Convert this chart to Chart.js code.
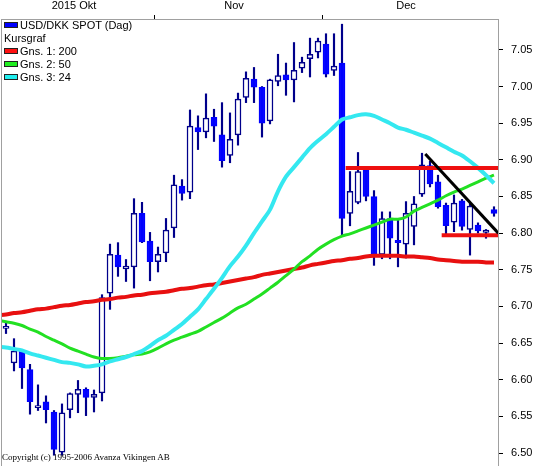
<!DOCTYPE html>
<html>
<head>
<meta charset="utf-8">
<script src="https://cdn.jsdelivr.net/npm/chart.js@4.4.0/dist/chart.umd.min.js"></script>
<style>
  html, body { margin: 0; padding: 0; background: #fff; overflow: hidden; }
  #wrap { position: relative; width: 534px; height: 466px; overflow: hidden; }
  #grafico { position: absolute; left: 0; top: 0; display: block; }
  #legend { position: absolute; left: 4px; top: 19px; font: 11px "Liberation Sans", Arial, sans-serif; color: #000; }
  #legend div { height: 13px; line-height: 13px; white-space: nowrap; }
  #legend .sw { display: inline-block; width: 12px; height: 4px; border: 1px solid #222; margin-right: 2px; vertical-align: 1px; }
  #copy { position: absolute; left: 2px; top: 452px; font: 9px "Liberation Serif", "Times New Roman", serif; line-height: 10px; color: #000; white-space: nowrap; }
</style>
</head>
<body>
<div id="wrap">
  <canvas id="grafico" width="534" height="466"></canvas>
  <div id="legend">
    <div><span class="sw" style="background:#0000ff"></span>USD/DKK SPOT (Dag)</div>
    <div>Kursgraf</div>
    <div><span class="sw" style="background:#ff1010"></span>Gns. 1: 200</div>
    <div><span class="sw" style="background:#20ee20"></span>Gns. 2: 50</div>
    <div><span class="sw" style="background:#20eeee"></span>Gns. 3: 24</div>
  </div>
  <div id="copy">Copyright (c) 1995-2006 Avanza Vikingen AB</div>
</div>
<script>
// dagskurser USD/DKK, okt - dec 2015 (index 0 = første dag)
const open  = [6.670, 6.623, 6.640, 6.614, 6.562, 6.570, 6.556, 6.501, 6.559, 6.580, 6.587, 6.576, 6.582, 6.718, 6.770, 6.751, 6.754, 6.827, 6.789, 6.761, 6.773, 6.807, 6.864, 6.856, 6.944, 6.938, 6.958, 6.934, 6.906, 6.934, 6.985, 7.010, 6.999, 6.953, 7.007, 7.016, 7.009, 7.025, 7.038, 7.047, 7.058, 7.022, 7.032, 6.827, 6.842, 6.887, 6.850, 6.771, 6.820, 6.790, 6.785, 6.809, 6.853, 6.892, 6.870, 6.838, 6.815, 6.844, 6.805, 6.811, 6.801, 6.832];
const high  = [6.677, 6.656, 6.641, 6.621, 6.593, 6.578, 6.558, 6.567, 6.582, 6.599, 6.589, 6.586, 6.716, 6.785, 6.787, 6.764, 6.847, 6.842, 6.801, 6.781, 6.820, 6.879, 6.873, 6.968, 6.960, 6.990, 6.969, 6.978, 6.964, 6.991, 7.020, 7.026, 7.000, 7.010, 7.044, 7.032, 7.060, 7.040, 7.066, 7.066, 7.072, 7.072, 7.085, 6.884, 6.910, 6.891, 6.858, 6.829, 6.829, 6.818, 6.843, 6.850, 6.909, 6.898, 6.879, 6.841, 6.852, 6.846, 6.841, 6.814, 6.805, 6.836];
const low   = [6.663, 6.612, 6.588, 6.553, 6.558, 6.541, 6.497, 6.497, 6.548, 6.555, 6.551, 6.556, 6.571, 6.696, 6.741, 6.734, 6.725, 6.787, 6.735, 6.747, 6.761, 6.794, 6.845, 6.847, 6.914, 6.930, 6.925, 6.890, 6.896, 6.920, 6.978, 6.978, 6.931, 6.949, 7.001, 6.988, 6.979, 7.019, 7.013, 7.039, 7.013, 7.015, 6.797, 6.810, 6.840, 6.844, 6.756, 6.765, 6.765, 6.754, 6.766, 6.784, 6.850, 6.863, 6.834, 6.797, 6.802, 6.804, 6.770, 6.800, 6.793, 6.823];
const close = [6.670, 6.639, 6.616, 6.570, 6.562, 6.559, 6.505, 6.555, 6.581, 6.587, 6.576, 6.580, 6.712, 6.771, 6.754, 6.755, 6.827, 6.788, 6.761, 6.771, 6.804, 6.866, 6.854, 6.946, 6.938, 6.957, 6.946, 6.899, 6.928, 6.983, 7.011, 6.999, 6.950, 7.009, 7.015, 7.009, 7.022, 7.033, 7.044, 7.062, 7.017, 7.028, 6.820, 6.857, 6.884, 6.850, 6.770, 6.820, 6.793, 6.787, 6.827, 6.840, 6.893, 6.867, 6.836, 6.810, 6.841, 6.809, 6.837, 6.803, 6.804, 6.827];

// glidande medel, fra dagen før index 0 (index -1) til sidste dag
const gns200 = [6.688, 6.689, 6.691, 6.692, 6.694, 6.696, 6.697, 6.699, 6.701, 6.702, 6.704, 6.706, 6.707, 6.709, 6.710, 6.712, 6.713, 6.715, 6.716, 6.718, 6.719, 6.720, 6.722, 6.724, 6.725, 6.727, 6.729, 6.730, 6.732, 6.734, 6.736, 6.738, 6.740, 6.743, 6.745, 6.747, 6.749, 6.751, 6.753, 6.756, 6.758, 6.760, 6.762, 6.763, 6.765, 6.766, 6.768, 6.769, 6.769, 6.769, 6.769, 6.768, 6.768, 6.767, 6.766, 6.764, 6.763, 6.762, 6.761, 6.761, 6.761, 6.760, 6.760];
const gns50  = [6.681, 6.679, 6.677, 6.674, 6.669, 6.665, 6.659, 6.654, 6.649, 6.643, 6.639, 6.635, 6.631, 6.629, 6.629, 6.630, 6.632, 6.634, 6.635, 6.638, 6.643, 6.649, 6.654, 6.658, 6.662, 6.666, 6.672, 6.678, 6.684, 6.691, 6.698, 6.703, 6.710, 6.717, 6.725, 6.733, 6.742, 6.751, 6.761, 6.769, 6.778, 6.785, 6.791, 6.796, 6.799, 6.803, 6.807, 6.811, 6.815, 6.819, 6.819, 6.822, 6.830, 6.835, 6.840, 6.845, 6.851, 6.856, 6.860, 6.865, 6.870, 6.875, 6.879];
const gns24  = [6.645, 6.644, 6.642, 6.640, 6.636, 6.633, 6.630, 6.627, 6.624, 6.623, 6.621, 6.618, 6.619, 6.621, 6.625, 6.628, 6.631, 6.635, 6.639, 6.646, 6.654, 6.660, 6.668, 6.676, 6.686, 6.696, 6.710, 6.724, 6.739, 6.755, 6.768, 6.783, 6.800, 6.816, 6.832, 6.857, 6.877, 6.890, 6.903, 6.916, 6.926, 6.935, 6.945, 6.955, 6.958, 6.961, 6.962, 6.960, 6.955, 6.950, 6.944, 6.941, 6.937, 6.933, 6.929, 6.923, 6.917, 6.911, 6.906, 6.898, 6.889, 6.879, 6.868];

// måneder: navn, første og sidste dag-index
const maaneder   = ['2015 Okt', 'Nov', 'Dec'];
const forsteDag  = [0, 19, 40];
const sidsteDag  = [18, 39, 61];

// y-akse
const yTicks = [6.50, 6.55, 6.60, 6.65, 6.70, 6.75, 6.80, 6.85, 6.90, 6.95, 7.00, 7.05];
const yMin = 6.4823, yMax = 7.0921;
const xMin = -0.625, xMax = 61.5;

// tegnede linjer (modstand, støtte, trend)
const modstand = [[42.46, 6.889], [61.5, 6.889]];
const stotte   = [[54.46, 6.797], [61.5, 6.797]];
const trend    = [[52.41, 6.908], [61.54, 6.800]];

const dage = open.map((_, i) => i);
const maDage = gns200.map((_, k) => k - 1);
const toPts = arr => arr.map(p => ({x: p[0], y: p[1]}));

const bodyFill = dage.map(i => close[i] < open[i] ? '#0000ff' : '#ffffff');
const bodyLine = dage.map(i => close[i] < open[i] ? '#0000ff' : '#00008b');

// x-akse ticks: månedsgrænser (streg) og månedsnavne (tekst)
const graenser = forsteDag.slice(1).map(d => d - 0.5);
const navnPos = forsteDag.map((d, k) => (d + sidsteDag[k]) / 2 - 0.5);
const xTickVals = graenser.concat(navnPos).sort((a, b) => a - b);

const ramme = {
    id: 'ramme',
    afterDraw(chart) {
        const {ctx, chartArea: a} = chart;
        ctx.save();
        ctx.strokeStyle = '#a0a0a0';
        ctx.lineWidth = 1;
        ctx.beginPath();
        ctx.moveTo(a.left + 0.5, a.top);
        ctx.lineTo(a.left + 0.5, a.bottom);
        ctx.stroke();
        ctx.restore();
    }
};

Chart.defaults.font.family = '"Liberation Sans", Arial, sans-serif';
Chart.defaults.font.size = 11;
Chart.defaults.color = '#000';

const ctx = document.getElementById('grafico');
const kursgraf = new Chart(ctx, {
    type: 'bar',
    data: {
        datasets: [{
            label: 'veke',
            data: dage.map(i => ({x: i, y: [low[i], high[i]]})),
            backgroundColor: '#00008b',
            barThickness: 1.5,
            grouped: false,
            order: 10
        }, {
            label: 'USD/DKK SPOT (Dag)',
            data: dage.map(i => ({x: i, y: [open[i], close[i]]})),
            backgroundColor: bodyFill,
            borderColor: bodyLine,
            borderWidth: 1.5,
            borderSkipped: false,
            barThickness: 6,
            minBarLength: 2,
            grouped: false,
            order: 9
        }, {
            type: 'line',
            label: 'Gns. 1: 200',
            data: maDage.map((d, k) => ({x: d, y: gns200[k]})),
            borderColor: '#e81010',
            borderWidth: 4,
            pointRadius: 0,
            tension: 0.3,
            order: 8
        }, {
            type: 'line',
            label: 'Gns. 2: 50',
            data: maDage.map((d, k) => ({x: d, y: gns50[k]})),
            borderColor: '#22e022',
            borderWidth: 3,
            pointRadius: 0,
            tension: 0.3,
            order: 7
        }, {
            type: 'line',
            label: 'Gns. 3: 24',
            data: maDage.map((d, k) => ({x: d, y: gns24[k]})),
            borderColor: '#34e8f0',
            borderWidth: 4,
            pointRadius: 0,
            tension: 0.3,
            order: 6
        }, {
            type: 'line',
            label: 'modstand',
            data: toPts(modstand),
            borderColor: '#ee1010',
            borderWidth: 4,
            pointRadius: 0,
            order: 5
        }, {
            type: 'line',
            label: 'støtte',
            data: toPts(stotte),
            borderColor: '#ee1010',
            borderWidth: 4,
            pointRadius: 0,
            order: 4
        }, {
            type: 'line',
            label: 'trend',
            data: toPts(trend),
            borderColor: '#000000',
            borderWidth: 3,
            pointRadius: 0,
            order: 3
        }]
    },
    options: {
        responsive: false,
        animation: false,
        layout: { padding: { left: 1, right: 0, top: 0, bottom: 0 } },
        scales: {
            x: {
                type: 'linear',
                position: 'top',
                min: xMin,
                max: xMax,
                offset: false,
                afterBuildTicks: s => { s.ticks = xTickVals.map(v => ({value: v})); },
                afterFit: s => { s.height = 19; s.paddingLeft = 0; s.paddingRight = 0; },
                ticks: {
                    autoSkip: false,
                    maxRotation: 0,
                    padding: 2,
                    callback: function(value) {
                        const k = navnPos.indexOf(value);
                        return k >= 0 ? maaneder[k] : '';
                    }
                },
                grid: {
                    drawOnChartArea: false,
                    offset: false,
                    tickLength: 4,
                    tickColor: c => (c.tick && graenser.includes(c.tick.value)) ? '#000' : 'rgba(0,0,0,0)'
                },
                border: { color: '#a0a0a0' }
            },
            y: {
                position: 'right',
                min: yMin,
                max: yMax,
                beginAtZero: false,
                afterBuildTicks: s => { s.ticks = yTicks.map(v => ({value: v})); },
                afterFit: s => { s.width = 36; s.paddingTop = 0; s.paddingBottom = 0; },
                ticks: {
                    padding: 8,
                    callback: v => v.toFixed(2)
                },
                grid: {
                    drawOnChartArea: false,
                    tickLength: 5,
                    tickColor: '#000'
                },
                border: { color: '#a0a0a0' }
            }
        },
        plugins: {
            legend: { display: false },
            tooltip: { enabled: false }
        }
    },
    plugins: [ramme]
});
</script>
</body>
</html>
